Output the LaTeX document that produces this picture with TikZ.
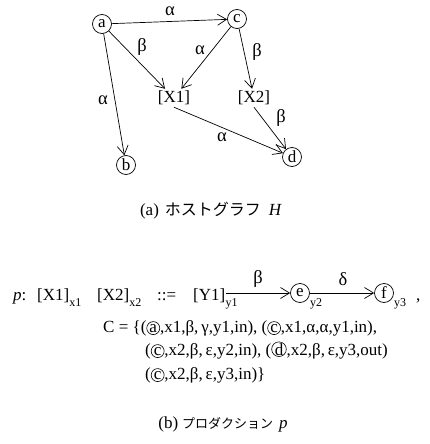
\documentclass[tikz,border=0pt]{standalone}
\usepackage{fontspec}
\setmainfont{Liberation Serif}
\newfontfamily\jp{Noto Sans CJK JP}
\usetikzlibrary{arrows.meta}
\newcommand\subx[1]{\raisebox{-6pt}{\fontsize{12}{12}\selectfont #1}}
\newcommand\cir[1]{\tikz[baseline=(cirq.base)]\node[draw,circle,inner sep=0pt,minimum size=13pt,line width=0.6pt](cirq){#1};}
\begin{document}
\begin{tikzpicture}[x=1pt,y=-1pt,
  font=\fontsize{17}{20}\selectfont,
  vtx/.style={draw,circle,inner sep=0pt,minimum size=19pt,line width=0.7pt},
  txt/.style={inner sep=2pt},
  lbl/.style={inner sep=0pt,font=\fontsize{18.5}{20}\selectfont},
  row/.style={inner sep=0pt,anchor=base west},
  sub/.style={inner sep=0pt,anchor=base west,font=\fontsize{12}{12}\selectfont},
  conn/.style={line width=0.7pt,-{Straight Barb[length=9pt,width=11pt]}}]
\useasboundingbox[fill=white] (0,0) rectangle (430,444);
% host graph
\node[vtx] (a) at (102,24) {a};
\node[vtx] (c) at (237,19) {c};
\node[txt] (X1) at (174,98) {[X1]};
\node[txt] (X2) at (254,98) {[X2]};
\node[vtx] (b) at (126,165) {b};
\node[vtx] (d) at (292,157) {d};
\draw[conn] (a) -- (c);
\draw[conn] (a) -- (X1);
\draw[conn] (c) -- (X1);
\draw[conn] (c) -- (X2);
\draw[conn] (a) -- (b);
\draw[conn] (X1.south) -- (d);
\draw[conn] (X2.south) -- (d);
\node[lbl] (l1) at (170,11) {α};
\node[lbl] (l2) at (142,47) {β};
\node[lbl] (l3) at (200,50) {α};
\node[lbl] (l4) at (257,52) {β};
\node[lbl] (l5) at (103,100) {α};
\node[lbl] (l6) at (222,137) {α};
\node[lbl] (l7) at (281,118) {β};
\node (capa) at (211,211) {(a)\hspace{6pt}{\jp\fontsize{16}{16}\selectfont ホストグラフ}\hspace{8pt}\textit{H}};
% production
\node[row] (pp) at (13,300) {\textit{p}:};
\node[row] (X1p) at (37,300) {[X1]\subx{x1}};
\node[row] (X2p) at (97,300) {[X2]\subx{x2}};
\node[row] (def) at (157,300) {::=};
\node[row] (Y1) at (193,300) {[Y1]};
\node[sub] (y1s) at ([yshift=-6pt]Y1.base east) {y1};
\node[vtx] (e) at (300,293) {e};
\node[sub] (y2s) at (e.east |- 0,306) {y2};
\node[vtx] (f) at (384,293) {f};
\node[sub] (y3s) at (f.east |- 0,306) {y3};
\node[row] (comma) at (416,300) {,};
\draw[conn] (Y1.east |- e.west) -- (e.west);
\draw[conn] (e) -- (f);
\node[lbl] (lb) at (258,279) {β};
\node[lbl] (ld) at (343,279) {δ};
\node[row] (C1) at (103,332) {C = \{(\cir{a},x1,β,\,γ,y1,in), (\cir{c},x1,α,α,y1,in),};
\node[row] (C2) at (145,355) {(\cir{c},x2,β,\,ε,y2,in), (\cir{d},x2,β,\,ε,y3,out)};
\node[row] (C3) at (145,379) {(\cir{c},x2,β,\,ε,y3,in)\}};
\node (capb) at (223,424) {(b)\hspace{4pt}{\jp\fontsize{13}{13}\selectfont プロダクション}\hspace{6pt}\textit{p}};
\end{tikzpicture}
\end{document}
